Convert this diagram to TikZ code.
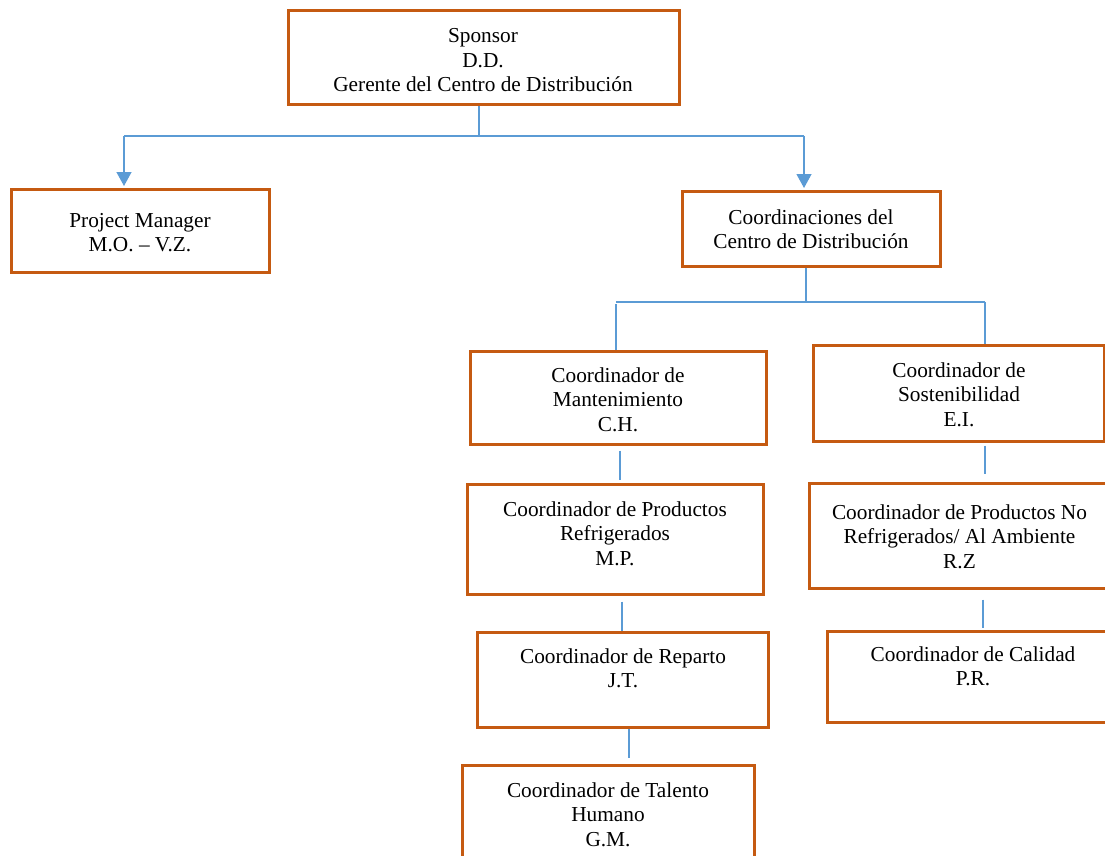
\documentclass[tikz,border=0pt]{standalone}
\usepackage{fontspec}
\setmainfont{Liberation Serif}
\usetikzlibrary{arrows.meta}
\definecolor{boxorange}{HTML}{C55A11}
\definecolor{lineblue}{HTML}{5B9BD5}
\begin{document}
\begin{tikzpicture}[x=1pt,y=-1pt,
  orgbox/.style={draw=boxorange, line width=3pt, rectangle, inner sep=0pt},
  txt/.style={anchor=base, inner sep=0pt, font=\fontsize{21.3pt}{24.5pt}\selectfont},
  conn/.style={draw=lineblue, line width=1.3pt},
  arr/.style={conn, -{Triangle[width=15pt,length=14pt]}, shorten >=1.5pt}]
\useasboundingbox (0,0) rectangle (1105,856);
\clip (0,0) rectangle (1105,856);
\renewcommand{\arraystretch}{1}
% boxes
\node[orgbox, minimum width=391pt, minimum height=94pt] (sponsor) at (483.5,58) {};
\node[orgbox, minimum width=258pt, minimum height=83pt] (pm) at (140,230.5) {};
\node[orgbox, minimum width=258pt, minimum height=75pt] (coord) at (811,228.5) {};
\node[orgbox, minimum width=296pt, minimum height=93pt] (mant) at (618,397.5) {};
\node[orgbox, minimum width=291pt, minimum height=96pt] (sost) at (958.5,393) {};
\node[orgbox, minimum width=296pt, minimum height=110pt] (refr) at (615,539) {};
\node[orgbox, minimum width=300pt, minimum height=105pt] (norefr) at (959,535.5) {};
\node[orgbox, minimum width=291pt, minimum height=95pt] (rep) at (622.5,679.5) {};
\node[orgbox, minimum width=292pt, minimum height=91pt] (cal) at (973,676.5) {};
\node[orgbox, minimum width=292pt, minimum height=110pt] (tal) at (608,820) {};
% texts
\node[txt] (sponsor-t) at (483,43) {\begin{tabular}[t]{@{}c@{}}Sponsor\\D.D.\\Gerente del Centro de Distribución\end{tabular}};
\node[txt] (pm-t) at (140,227) {\begin{tabular}[t]{@{}c@{}}Project Manager\\M.O. – V.Z.\end{tabular}};
\node[txt] (coord-t) at (811,224) {\begin{tabular}[t]{@{}c@{}}Coordinaciones del\\Centro de Distribución\end{tabular}};
\node[txt] (mant-t) at (618,382) {\begin{tabular}[t]{@{}c@{}}Coordinador de\\Mantenimiento\\C.H.\end{tabular}};
\node[txt] (sost-t) at (959,377) {\begin{tabular}[t]{@{}c@{}}Coordinador de\\Sostenibilidad\\E.I.\end{tabular}};
\node[txt] (refr-t) at (615,516) {\begin{tabular}[t]{@{}c@{}}Coordinador de Productos\\Refrigerados\\M.P.\end{tabular}};
\node[txt] (norefr-t) at (959.5,519) {\begin{tabular}[t]{@{}c@{}}Coordinador de Productos No\\Refrigerados/ Al Ambiente\\R.Z\end{tabular}};
\node[txt] (rep-t) at (623,663) {\begin{tabular}[t]{@{}c@{}}Coordinador de Reparto\\J.T.\end{tabular}};
\node[txt] (cal-t) at (973,661) {\begin{tabular}[t]{@{}c@{}}Coordinador de Calidad\\P.R.\end{tabular}};
\node[txt] (tal-t) at (608,797) {\begin{tabular}[t]{@{}c@{}}Coordinador de Talento\\Humano\\G.M.\end{tabular}};
% junction coordinates
\coordinate (j1) at (479,136);
\coordinate (j1L) at (124,136);
\coordinate (j1R) at (804,136);
\coordinate (j2) at (806,302);
\coordinate (j2L) at (616,302);
\coordinate (j2R) at (985,302);
\coordinate (c1) at (620,0);
\coordinate (c2) at (622,0);
\coordinate (c3) at (629,0);
\coordinate (c4) at (985,0);
\coordinate (c5) at (983,0);
% connectors
\draw[conn] (sponsor.south -| j1) -- (j1);
\draw[conn] (j1L) -- (j1R);
\draw[arr] (j1L) -- (j1L |- pm.north);
\draw[arr] (j1R) -- (j1R |- coord.north);
\draw[conn] (coord.south -| j2) -- (j2);
\draw[conn] (j2L) -- (j2R);
\draw[conn] ([yshift=-2pt]j2L) -- (j2L |- mant.north);
\draw[conn] (j2R) -- (j2R |- sost.north);
\draw[conn, shorten <=5pt, shorten >=3pt] (mant.south -| c1) -- (refr.north -| c1);
\draw[conn, shorten <=6pt] (refr.south -| c2) -- (rep.north -| c2);
\draw[conn, shorten >=6pt] (rep.south -| c3) -- (tal.north -| c3);
\draw[conn, shorten <=3pt, shorten >=8pt] (sost.south -| c4) -- (norefr.north -| c4);
\draw[conn, shorten <=10pt, shorten >=2pt] (norefr.south -| c5) -- (cal.north -| c5);
\end{tikzpicture}
\end{document}
